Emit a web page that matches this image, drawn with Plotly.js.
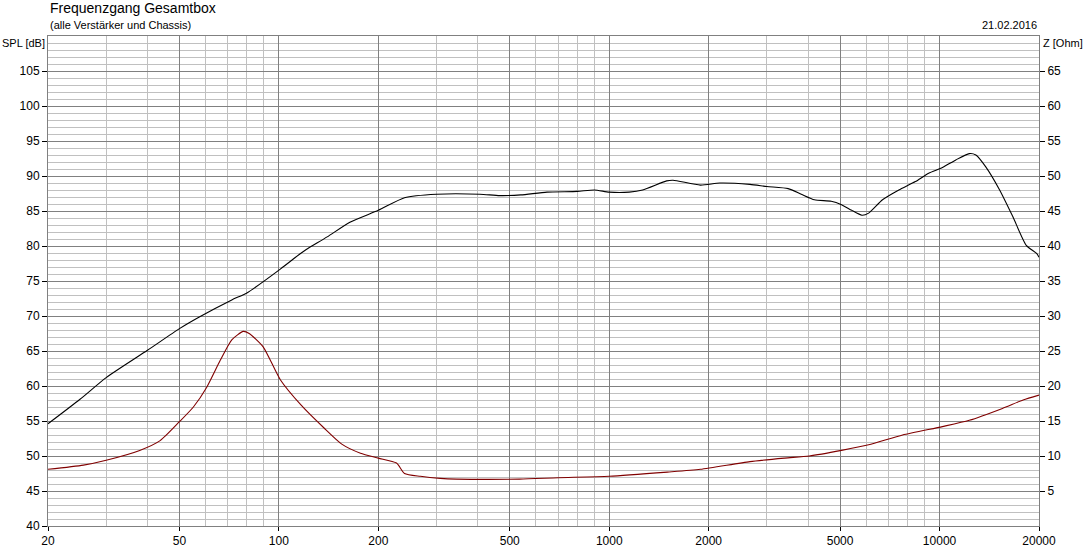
<!DOCTYPE html>
<html>
<head>
<meta charset="utf-8">
<script src="https://cdn.plot.ly/plotly-3.0.1.min.js"></script>
<style>
html,body{margin:0;padding:0;background:#fff;}
#chart{width:1087px;height:551px;}
</style>
</head>
<body>
<div id="chart"></div>
<script>
// SPL curve (dB)
const splFreq = [20, 25, 30, 40, 50, 57.6, 72, 80, 101, 116, 121, 140, 164, 200, 240, 300, 406, 466, 540, 648, 800, 902, 1000, 1149, 1262, 1492, 1560, 1888, 2162, 2667, 3000, 3480, 3815, 4180, 4700, 5050, 5420, 5820, 6100, 6720, 7530, 8450, 9270, 10200, 11200, 12300, 12880, 13800, 15200, 16660, 18300, 19700, 20000];
const splValues = [54.6, 58.1, 61.2, 65.1, 68.2, 69.9, 72.3, 73.3, 76.7, 78.9, 79.5, 81.3, 83.4, 85.1, 86.9, 87.4, 87.4, 87.2, 87.3, 87.7, 87.8, 88.0, 87.7, 87.7, 88.0, 89.3, 89.4, 88.7, 89.0, 88.8, 88.5, 88.2, 87.4, 86.6, 86.4, 85.9, 85.1, 84.4, 84.7, 86.6, 88.0, 89.2, 90.4, 91.2, 92.3, 93.2, 93.0, 91.3, 88.0, 84.2, 80.1, 78.9, 78.4];

// Impedance curve (Ohm)
const zFreq = [20, 25.6, 30, 37.9, 43.7, 50, 55.1, 60.6, 66.5, 72, 78, 81.3, 89.6, 101, 116.6, 137, 155, 176.6, 200, 227, 240, 268, 308, 345, 535, 700, 1000, 1500, 1888, 2667, 3400, 4030, 5050, 6100, 7730, 10200, 12300, 15500, 17900, 20000];
const zValues = [8.1, 8.7, 9.4, 10.8, 12.2, 14.9, 17.0, 19.9, 23.7, 26.6, 27.8, 27.5, 25.6, 20.9, 17.3, 14.0, 11.7, 10.4, 9.7, 9.0, 7.5, 7.1, 6.8, 6.7, 6.7, 6.9, 7.1, 7.7, 8.1, 9.2, 9.7, 10.0, 10.8, 11.6, 13.0, 14.2, 15.1, 16.8, 18.0, 18.7];

// Axis ticks
const xMajorTicks = [20, 50, 100, 200, 500, 1000, 2000, 5000, 10000, 20000];
const xMinorTicks = [30, 40, 60, 70, 80, 90, 300, 400, 600, 700, 800, 900, 3000, 4000, 6000, 7000, 8000, 9000];
const splTicks = [40, 45, 50, 55, 60, 65, 70, 75, 80, 85, 90, 95, 100, 105];
const zTicks = [5, 10, 15, 20, 25, 30, 35, 40, 45, 50, 55, 60, 65];

const FONT = 'Liberation Sans, Arial, sans-serif';

const traces = [
  {
    x: splFreq, y: splValues, type: 'scatter', mode: 'lines',
    line: {color: '#000000', width: 1.1, shape: 'spline', smoothing: 0.6},
    yaxis: 'y', hoverinfo: 'skip'
  },
  {
    x: zFreq, y: zValues, type: 'scatter', mode: 'lines',
    line: {color: '#800000', width: 1.1, shape: 'spline', smoothing: 0.6},
    yaxis: 'y2', hoverinfo: 'skip'
  }
];

const layout = {
  width: 1087, height: 551,
  margin: {l: 48, r: 48, t: 36, b: 25, pad: 0},
  paper_bgcolor: '#ffffff', plot_bgcolor: '#ffffff',
  showlegend: false,
  font: {family: FONT, size: 12, color: '#000'},
  xaxis: {
    type: 'log',
    range: [Math.log10(20), Math.log10(20000)],
    tickmode: 'array',
    tickvals: xMajorTicks,
    ticktext: xMajorTicks.map(String),
    showgrid: true, gridcolor: '#808080', gridwidth: 1,
    ticks: 'outside', ticklen: 4, tickcolor: '#000',
    showline: true, linecolor: '#808080', linewidth: 1, mirror: true,
    zeroline: false,
    tickfont: {family: FONT, size: 12, color: '#000'},
    minor: {tickmode: 'array', tickvals: xMinorTicks, showgrid: true, gridcolor: '#c0c0c0', gridwidth: 1, ticks: ''}
  },
  yaxis: {
    range: [40, 110],
    tickmode: 'array', tickvals: splTicks,
    showgrid: true, gridcolor: '#808080', gridwidth: 1,
    ticks: 'outside', ticklen: 5, tickcolor: '#000',
    showline: true, linecolor: '#808080', linewidth: 1, mirror: true,
    zeroline: false,
    tickfont: {family: FONT, size: 12, color: '#000'},
    minor: {dtick: 1, tick0: 40, showgrid: true, gridcolor: '#c0c0c0', gridwidth: 1, ticks: ''}
  },
  yaxis2: {
    overlaying: 'y', side: 'right',
    range: [0, 70],
    tickmode: 'array', tickvals: zTicks,
    showgrid: false, zeroline: false,
    ticks: 'outside', ticklen: 5, tickcolor: '#000',
    tickfont: {family: FONT, size: 12, color: '#000'}
  },
  annotations: [
    {text: 'Frequenzgang Gesamtbox', xref: 'paper', yref: 'paper', x: 0, y: 1, xanchor: 'left', yanchor: 'bottom', yshift: 18, showarrow: false, font: {family: FONT, size: 14, color: '#000'}},
    {text: '(alle Verstärker und Chassis)', xref: 'paper', yref: 'paper', x: 0, y: 1, xanchor: 'left', yanchor: 'bottom', yshift: 3, showarrow: false, font: {family: FONT, size: 11, color: '#000'}},
    {text: '21.02.2016', xref: 'paper', yref: 'paper', x: 1, y: 1, xanchor: 'right', yanchor: 'bottom', yshift: 3, showarrow: false, font: {family: FONT, size: 11, color: '#000'}},
    {text: 'SPL [dB]', xref: 'paper', yref: 'paper', x: 0, y: 1, xanchor: 'right', yanchor: 'top', xshift: -1, yshift: 1, showarrow: false, font: {family: FONT, size: 11, color: '#000'}},
    {text: 'Z [Ohm]', xref: 'paper', yref: 'paper', x: 1, y: 1, xanchor: 'left', yanchor: 'top', xshift: 2, yshift: 1, showarrow: false, font: {family: FONT, size: 11, color: '#000'}}
  ]
};

Plotly.newPlot('chart', traces, layout, {staticPlot: true, displayModeBar: false});
</script>
</body>
</html>
